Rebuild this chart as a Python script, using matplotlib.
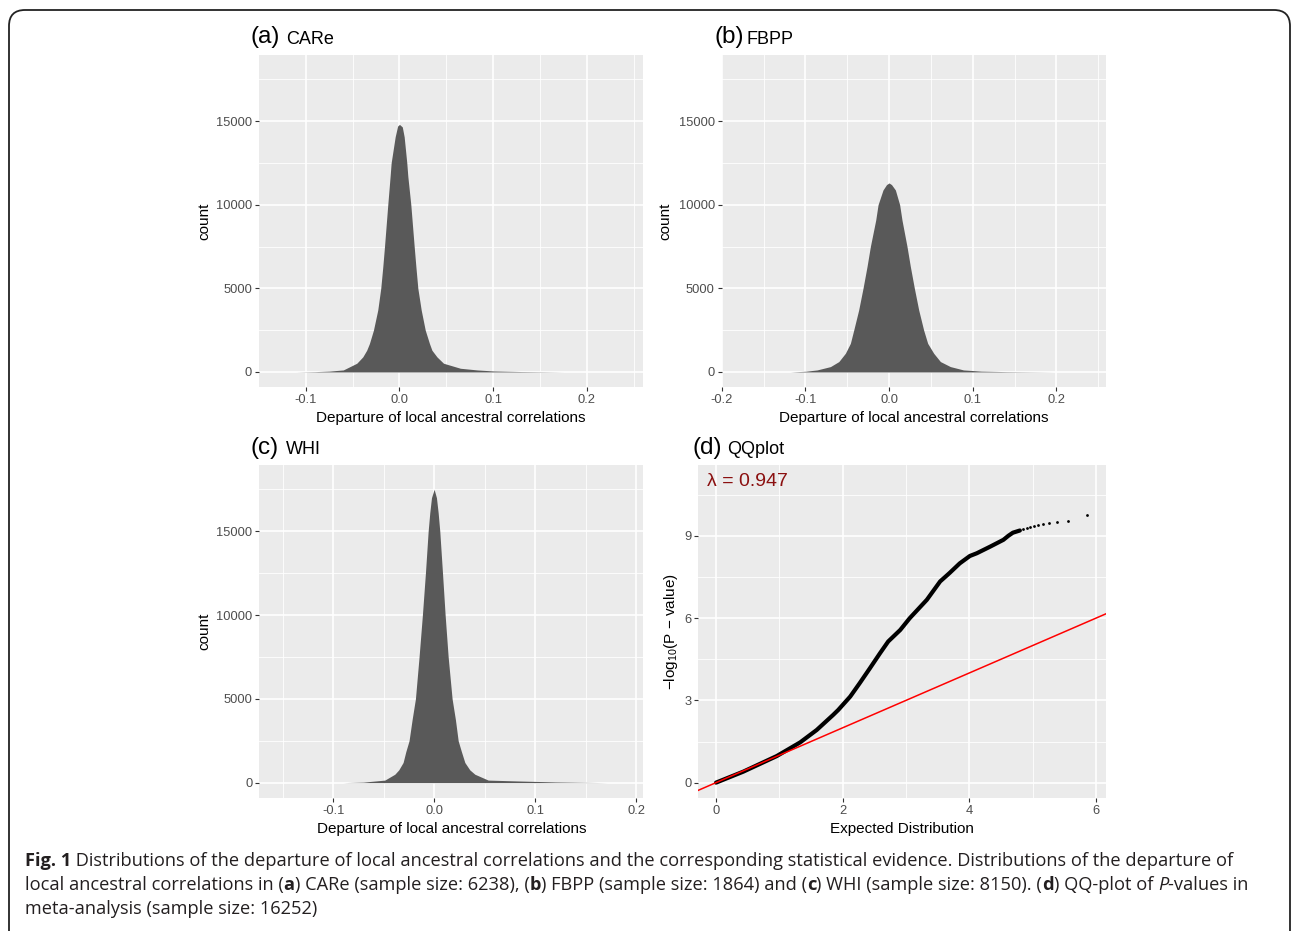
import numpy as np
import matplotlib.pyplot as plt
from matplotlib.patches import FancyBboxPatch

plt.rcParams['font.family'] = ['Liberation Sans', 'DejaVu Sans']
plt.rcParams['mathtext.fontset'] = 'custom'
plt.rcParams['mathtext.rm'] = 'Liberation Sans'
plt.rcParams['mathtext.it'] = 'Liberation Sans:italic'

# histogram outlines (bin centre, count)
care_x = [-0.11, -0.09, -0.075, -0.06, -0.0456, -0.0392, -0.035, -0.0321, -0.0278, -0.0232,
          -0.020, -0.0178, -0.016, -0.0125, -0.0100, -0.0089, -0.0046, -0.002, 0.0, 0.003,
          0.005, 0.0078, 0.0089, 0.0121, 0.0157, 0.0175, 0.0196, 0.0232, 0.0275, 0.032,
          0.0346, 0.040, 0.047, 0.065, 0.083, 0.10, 0.13, 0.16, 0.175]
care_count = [0, 20, 50, 120, 520, 900, 1300, 1700, 2500, 3700,
              5000, 6300, 7500, 10000, 11700, 12500, 14060, 14700, 14800, 14650,
              14060, 12500, 11700, 10000, 7500, 6300, 5000, 3700, 2500, 1700,
              1300, 900, 520, 220, 120, 60, 25, 8, 0]

fbpp_x = [-0.118, -0.10, -0.086, -0.070, -0.060, -0.0522, -0.0462, -0.0422, -0.0363, -0.0311,
          -0.0263, -0.0223, -0.0159, -0.0131, -0.0072, -0.003, 0.0, 0.003, 0.0076, 0.0127,
          0.0155, 0.0215, 0.0255, 0.0303, 0.0355, 0.0414, 0.0462, 0.0534, 0.0614, 0.0733,
          0.089, 0.11, 0.14, 0.17, 0.196]
fbpp_count = [0, 40, 120, 320, 620, 1115, 1710, 2500, 3700, 5000,
              6300, 7500, 9080, 10000, 10880, 11200, 11300, 11200, 10880, 10000,
              9080, 7500, 6300, 5000, 3700, 2500, 1710, 1115, 620, 320,
              120, 50, 20, 8, 0]

whi_x = [-0.09, -0.07, -0.0488, -0.0389, -0.035, -0.0307, -0.028, -0.0248, -0.0218, -0.0185,
         -0.0149, -0.0116, -0.0086, -0.0059, -0.0043, -0.0026, 0.0, 0.0023, 0.004, 0.0056,
         0.0083, 0.0109, 0.0139, 0.0178, 0.0211, 0.0238, 0.027, 0.0304, 0.0353, 0.0403,
         0.0535, 0.082, 0.12, 0.15, 0.171]
whi_count = [0, 30, 150, 500, 760, 1200, 1850, 2500, 3750, 5000,
             7500, 10000, 12500, 15000, 16100, 17000, 17500, 17000, 16100, 15000,
             12500, 10000, 7500, 5000, 3750, 2500, 1850, 1200, 760, 500,
             150, 100, 40, 15, 0]

# QQ plot: dense part of the curve and the isolated top points
qq_expected = [0, 0.43, 0.96, 1.33, 1.59, 1.85, 1.93, 2.12, 2.27, 2.43, 2.59, 2.72, 2.91,
               3.06, 3.33, 3.54, 3.69, 3.85, 4.01, 4.12, 4.33, 4.54, 4.62, 4.69, 4.80]
qq_observed = [0, 0.40, 0.97, 1.47, 1.92, 2.47, 2.65, 3.14, 3.63, 4.17, 4.72, 5.15, 5.57,
               6.0, 6.67, 7.34, 7.65, 8.0, 8.27, 8.37, 8.61, 8.86, 9.01, 9.12, 9.20]
tail_expected = [4.85, 4.91, 4.96, 5.02, 5.09, 5.16, 5.26, 5.38, 5.56, 5.86]
tail_observed = [9.26, 9.29, 9.32, 9.37, 9.40, 9.44, 9.48, 9.50, 9.53, 9.77]
lambda_gc = 0.947

caption_lines = [
    [('Fig. 1', 'b'),
     (' Distributions of the departure of local ancestral correlations and the corresponding '
      'statistical evidence. Distributions of the departure of', '')],
    [('local ancestral correlations in (', ''), ('a', 'b'),
     (') CARe (sample size: 6238), (', ''), ('b', 'b'),
     (') FBPP (sample size: 1864) and (', ''), ('c', 'b'),
     (') WHI (sample size: 8150). (', ''), ('d', 'b'),
     (') QQ-plot of ', ''), ('P', 'i'), ('-values in', '')],
    [('meta-analysis (sample size: 16252)', '')],
]

W, H = 1292, 931
fig = plt.figure(figsize=(W / 100, H / 100), dpi=100)
renderer = fig.canvas.get_renderer()


def box(l, t, r, b):
    return [l / W, 1 - b / H, (r - l) / W, (b - t) / H]


def gg_style(ax, xmaj, xmin_, ymaj, ymin_, xfmt, yfmt):
    ax.set_facecolor('#EBEBEB')
    for s in ax.spines.values():
        s.set_visible(False)
    ax.set_xticks(xmaj, [xfmt(v) for v in xmaj])
    ax.set_xticks(xmin_, minor=True)
    ax.set_yticks(ymaj, [yfmt(v) for v in ymaj])
    ax.set_yticks(ymin_, minor=True)
    ax.grid(which='major', color='white', lw=1.2)
    ax.grid(which='minor', color='white', lw=0.6)
    ax.set_axisbelow(True)
    ax.tick_params(which='major', length=3, width=0.8, color='#333333',
                   labelcolor='#4D4D4D', labelsize=9.3, pad=2)
    ax.tick_params(which='minor', length=0)


def panel_title(x, y, tag, name, name_x):
    fig.text(x / W, 1 - y / H, tag, fontsize=17.5, va='baseline', ha='left')
    fig.text(name_x / W, 1 - y / H, name, fontsize=13, va='baseline', ha='left')


hist_panels = [
    (box(259, 55, 643, 387), care_x, care_count, (-0.15, 0.26),
     [-0.1, 0.0, 0.1, 0.2], [-0.05, 0.05, 0.15, 0.25], -0.125, (251, 43.5, '(a)', 'CARe', 286)),
    (box(721.7, 55, 1105.7, 387), fbpp_x, fbpp_count, (-0.2, 0.259),
     [-0.2, -0.1, 0.0, 0.1, 0.2], [-0.15, -0.05, 0.05, 0.15, 0.25], -0.129, (714, 43.5, '(b)', 'FBPP', 747)),
    (box(259.3, 465, 643.3, 797.7), whi_x, whi_count, (-0.173, 0.207),
     [-0.1, 0.0, 0.1, 0.2], [-0.15, -0.05, 0.05, 0.15], -0.125, (251, 454, '(c)', 'WHI', 286)),
]

for rect, xs, cs, xlim, xmaj, xmin_, ylab_x, title in hist_panels:
    ax = fig.add_axes(rect)
    ax.fill_between(xs, cs, 0, color='#595959', lw=0)
    ax.set_xlim(*xlim)
    ax.set_ylim(-900, 18950)
    gg_style(ax, xmaj, xmin_, [0, 5000, 10000, 15000], [2500, 7500, 12500, 17500],
             lambda v: f'{v:.1f}', lambda v: f'{v:d}')
    ax.set_xlabel('Departure of local ancestral correlations', fontsize=11)
    ax.xaxis.set_label_coords(0.5, -0.073)
    ax.set_ylabel('count', fontsize=11)
    ax.yaxis.set_label_coords(ylab_x, 0.5)
    panel_title(*title)

# QQ plot
ax = fig.add_axes(box(698.3, 465, 1105.7, 797.7))
ax.plot(qq_expected, qq_observed, color='black', lw=3, solid_capstyle='round',
        solid_joinstyle='round')
ax.plot(tail_expected, tail_observed, 'o', color='black', ms=2.0, mew=0)
ax.axline((0, 0), slope=1, color='#FF0000', lw=1.1)
ax.text(0.5, 11, f'\u03bb = {lambda_gc}', color='#8B1010', fontsize=14, ha='center', va='center')
ax.set_xlim(-0.28, 6.156)
ax.set_ylim(-0.55, 11.59)
gg_style(ax, [0, 2, 4, 6], [1, 3, 5], [0, 3, 6, 9], [1.5, 4.5, 7.5, 10.5],
         lambda v: f'{v}', lambda v: f'{v}')
ax.set_xlabel('Expected Distribution', fontsize=11)
ax.xaxis.set_label_coords(0.5, -0.073)
ax.set_ylabel('\u2212log$_{10}$(P \u2212 value)', fontsize=11)
ax.yaxis.set_label_coords(-0.045, 0.5)
panel_title(692, 454, '(d)', 'QQplot', 727)

# caption with mixed weights; size chosen so the first line spans the same width
cap_font = 'Open Sans'
probe = fig.text(0, 0, ''.join(s for s, _ in caption_lines[0]), family=cap_font, fontsize=12)
cap_size = 12 * 1200 / probe.get_window_extent(renderer).width
probe.remove()


def rich_line(x, y, parts):
    for s, style in parts:
        kw = dict(family=cap_font, fontsize=cap_size, color='#231F20')
        if style == 'b':
            kw['weight'] = 'bold'
        elif style == 'i':
            kw['style'] = 'italic'
        t = fig.text(x / W, 1 - y / H, s, va='baseline', ha='left', **kw)
        x += t.get_window_extent(renderer).width


for i, line in enumerate(caption_lines):
    rich_line(25, 866 + 24 * i, line)

border = FancyBboxPatch((0.09, -0.5), 12.81, 9.21 + 0.5,
                        boxstyle='round,pad=0,rounding_size=0.16',
                        transform=fig.dpi_scale_trans, fill=False, ec='#222222', lw=1.3)
fig.add_artist(border)

fig.savefig('out.png', dpi=100)
